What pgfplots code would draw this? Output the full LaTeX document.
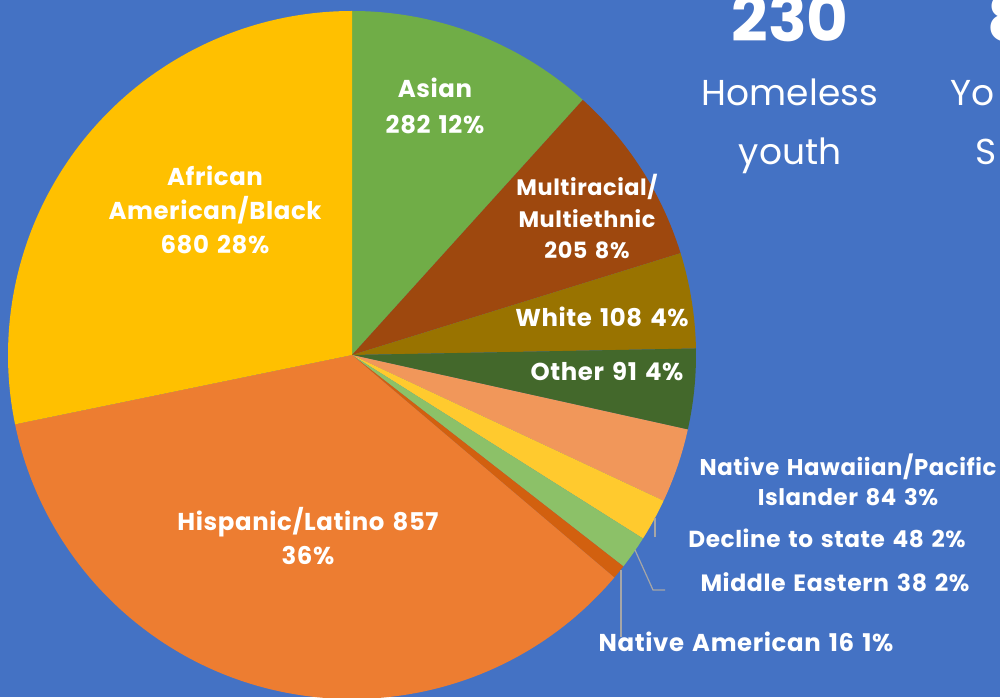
\documentclass[border=0pt]{standalone}
\usepackage{pgfplots}
\pgfplotsset{compat=1.18}
\usepackage{fontspec}
\setmainfont{Poppins}
\newfontfamily\lblfont[LetterSpace=2.5, WordSpace=1.4]{Poppins}

\definecolor{bg}{HTML}{4472C4}
\definecolor{cAsian}{HTML}{70AD47}
\definecolor{cMulti}{HTML}{9E480E}
\definecolor{cWhite}{HTML}{997300}
\definecolor{cOther}{HTML}{43682B}
\definecolor{cNHPI}{HTML}{F1975A}
\definecolor{cDecl}{HTML}{FFCA2E}
\definecolor{cME}{HTML}{8CC168}
\definecolor{cNA}{HTML}{D2600F}
\definecolor{cHisp}{HTML}{ED7D31}
\definecolor{cAfAm}{HTML}{FFC000}
\definecolor{leader}{HTML}{A6A6A6}

% counts, clockwise from 12 o'clock
\def\total{2409}
\def\cum{0}
\newcommand\slice[2]{%
  \pgfmathsetmacro\sa{90-360*(\cum/\total)}%
  \pgfmathsetmacro\cum{\cum+#1}%
  \pgfmathsetmacro\se{90-360*(\cum/\total)}%
  \edef\doit{\noexpand\fill[#2] (axis cs:352,342) -- ++(\sa:172pt)
    arc[start angle=\sa, end angle=\se, radius=172pt] -- cycle;}%
  \doit}

\begin{document}
\begin{tikzpicture}[
  lbl/.style={text=white, font=\lblfont\bfseries\fontsize{12.2}{15}\selectfont, align=center, inner sep=0pt},
]
\fill[bg] (0,0) rectangle (500pt,348.5pt);
\path[use as bounding box] (0,0) rectangle (500pt,348.5pt);
\clip (0,0) rectangle (500pt,348.5pt);
\begin{axis}[
  x=0.5pt, y=0.5pt,
  xmin=0, xmax=1000, ymin=0, ymax=697,
  scale only axis, hide axis,
  anchor=south west, at={(0,0)},
]
\slice{282}{cAsian}
\slice{205}{cMulti}
\slice{108}{cWhite}
\slice{91}{cOther}
\slice{84}{cNHPI}
\slice{48}{cDecl}
\slice{38}{cME}
\slice{16}{cNA}
\slice{857}{cHisp}
\slice{680}{cAfAm}

\draw[leader, line width=0.6pt] (axis cs:655,179) -- (axis cs:655,160);
\draw[leader, line width=0.6pt] (axis cs:635,147) -- (axis cs:653,107) -- (axis cs:665,107);
\draw[leader, line width=0.6pt] (axis cs:621,127) -- (axis cs:621,60);

\node[lbl, font=\lblfont\bfseries\fontsize{12.2}{18}\selectfont] at (axis cs:435,591) {Asian\\282 12\%};
\node[lbl, font=\lblfont\bfseries\fontsize{12.2}{17}\selectfont] at (axis cs:215,487) {African\\American/Black\\680 28\%};
\node[lbl, font=\lblfont\bfseries\fontsize{11.2}{15.75}\selectfont] at (axis cs:587,480) {Multiracial/\\Multiethnic\\205 8\%};
\node[lbl] at (axis cs:602,380) {White 108 4\%};
\node[lbl] at (axis cs:607,325) {Other 91 4\%};
\node[lbl, font=\lblfont\bfseries\fontsize{12.2}{17}\selectfont] at (axis cs:308,161) {Hispanic/Latino 857\\36\%};
\node[lbl, font=\lblfont\bfseries\fontsize{11.4}{15}\selectfont] at (axis cs:848,217) {Native Hawaiian/Pacific\\Islander 84 3\%};
\node[lbl, font=\lblfont\bfseries\fontsize{11.6}{15}\selectfont] at (axis cs:827,159) {Decline to state 48 2\%};
\node[lbl, font=\lblfont\bfseries\fontsize{11.8}{15}\selectfont] at (axis cs:835,115) {Middle Eastern 38 2\%};
\node[lbl] at (axis cs:746,55) {Native American 16 1\%};

\node[text=white, font=\bfseries\fontsize{32}{32}\selectfont, anchor=base, inner sep=0pt] at (axis cs:790,655) {230};
\node[text=white, font=\fontsize{18}{18}\selectfont, anchor=base, inner sep=0pt] at (axis cs:790,591) {Homeless};
\node[text=white, font=\fontsize{18}{18}\selectfont, anchor=base, inner sep=0pt] at (axis cs:790,532) {youth};
\node[text=white, font=\bfseries\fontsize{32}{32}\selectfont, anchor=base west, inner sep=0pt] at (axis cs:987,655) {8};
\node[text=white, font=\fontsize{18}{18}\selectfont, anchor=base west, inner sep=0pt] at (axis cs:950,591) {Yo};
\node[text=white, font=\fontsize{18}{18}\selectfont, anchor=base west, inner sep=0pt] at (axis cs:975,532) {S};
\end{axis}
\end{tikzpicture}
\end{document}
